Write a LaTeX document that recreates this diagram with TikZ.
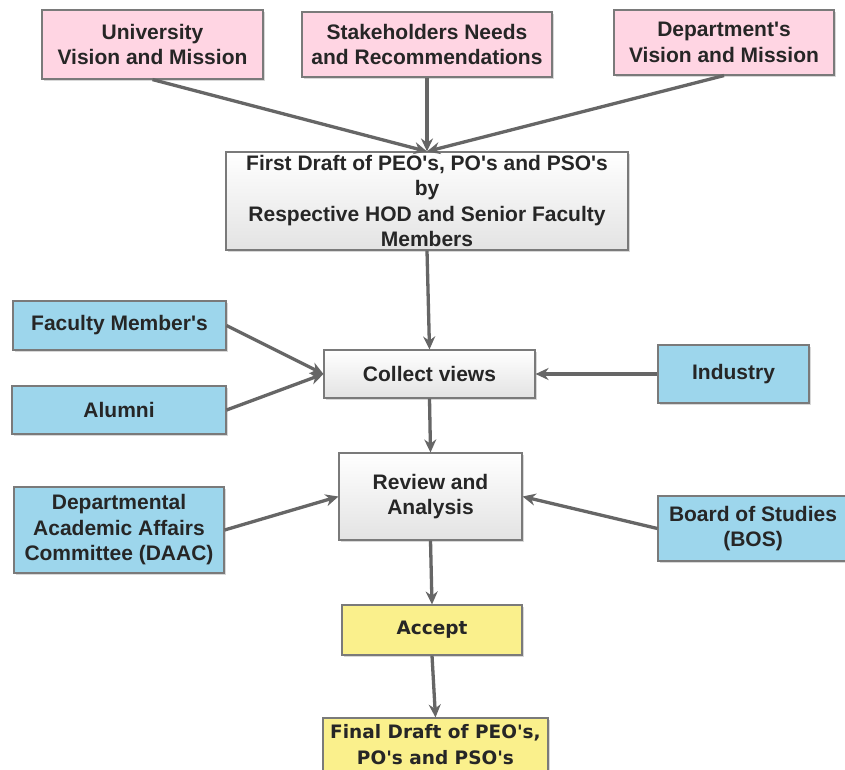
\documentclass[tikz,border=0pt]{standalone}
\usepackage{fontspec}
\setmainfont{Liberation Sans}[Ligatures=TeXOff]
\newfontfamily\dvfont{DejaVu Sans}
\usetikzlibrary{arrows.meta,shadows}
\definecolor{pinkf}{HTML}{FFD5E3}
\definecolor{bluef}{HTML}{9DD6EC}
\definecolor{yelf}{HTML}{FAF08C}
\definecolor{edgec}{HTML}{7A7A7A}
\definecolor{arrc}{HTML}{666666}
\definecolor{txtc}{HTML}{262626}
\begin{document}
\begin{tikzpicture}[x=1pt,y=-1pt,
  box/.style={draw=edgec, line width=1.1pt, align=center, inner sep=0pt,
    font=\fontsize{21}{25.5}\selectfont\bfseries, text=txtc,
    drop shadow={opacity=0.3,shadow xshift=2pt,shadow yshift=-2pt}},
  pinkbox/.style={box, fill=pinkf},
  bluebox/.style={box, fill=bluef},
  graybox/.style={box, top color=white, bottom color=gray!22},
  yelbox/.style={box, fill=yelf, font=\dvfont\fontsize{18.5}{26}\selectfont\bfseries},
  arr/.style={draw=arrc, line width=3.3pt, -{Stealth[length=13pt,width=12pt]}}
]
\useasboundingbox (0,0) rectangle (845,769);
\clip (0,0) rectangle (845,769);
\fill[white] (0,0) rectangle (845,769);

\node[pinkbox, minimum width=221pt, minimum height=69pt] (univ) at (152.5,44.5) {University\\Vision and Mission};
\node[pinkbox, minimum width=250pt, minimum height=65pt] (stake) at (427,44.5) {Stakeholders Needs\\and Recommendations};
\node[pinkbox, minimum width=220pt, minimum height=65pt] (dept) at (724,42.5) {Department's\\Vision and Mission};

\node[graybox, minimum width=402pt, minimum height=98pt] (first) at (427,201) {First Draft of PEO's, PO's and PSO's\\by\\Respective HOD and Senior Faculty\\Members};

\node[bluebox, minimum width=213pt, minimum height=49pt] (fac) at (119.5,325.5) {Faculty Member's};
\node[bluebox, minimum width=214pt, minimum height=48pt] (alum) at (119,410) {Alumni};
\node[graybox, minimum width=211pt, minimum height=48pt] (coll) at (429.5,374) {Collect views};
\node[bluebox, minimum width=151pt, minimum height=58pt] (ind) at (733.5,374) {Industry};

\node[graybox, minimum width=183pt, minimum height=87pt] (rev) at (430.5,496.5) {Review and\\Analysis};
\node[bluebox, minimum width=210pt, minimum height=86pt] (daac) at (119,530) {Departmental\\Academic Affairs\\Committee (DAAC)};
\node[bluebox, minimum width=190pt, minimum height=65pt] (bos) at (753,528.5) {Board of Studies\\(BOS)};

\node[yelbox, minimum width=180pt, minimum height=50pt] (acc) at (432,630) {Accept};
\node[yelbox, minimum width=225pt, minimum height=54pt] (fin) at (435.5,745) {Final Draft of PEO's,\\PO's and PSO's};

\draw[arr] (univ.south) -- (first.north);
\draw[arr] (stake.south) -- (first.north);
\draw[arr] (dept.south) -- (first.north);
\draw[arr] (first.south) -- (coll.north);
\draw[arr] (fac.east) -- (coll.west);
\draw[arr] (alum.east) -- (coll.west);
\draw[arr] (ind.west) -- (coll.east);
\draw[arr] (coll.south) -- (rev.north);
\draw[arr] (daac.east) -- (rev.west);
\draw[arr] (bos.west) -- (rev.east);
\draw[arr] (rev.south) -- (acc.north);
\draw[arr] (acc.south) -- (fin.north);
\end{tikzpicture}
\end{document}
